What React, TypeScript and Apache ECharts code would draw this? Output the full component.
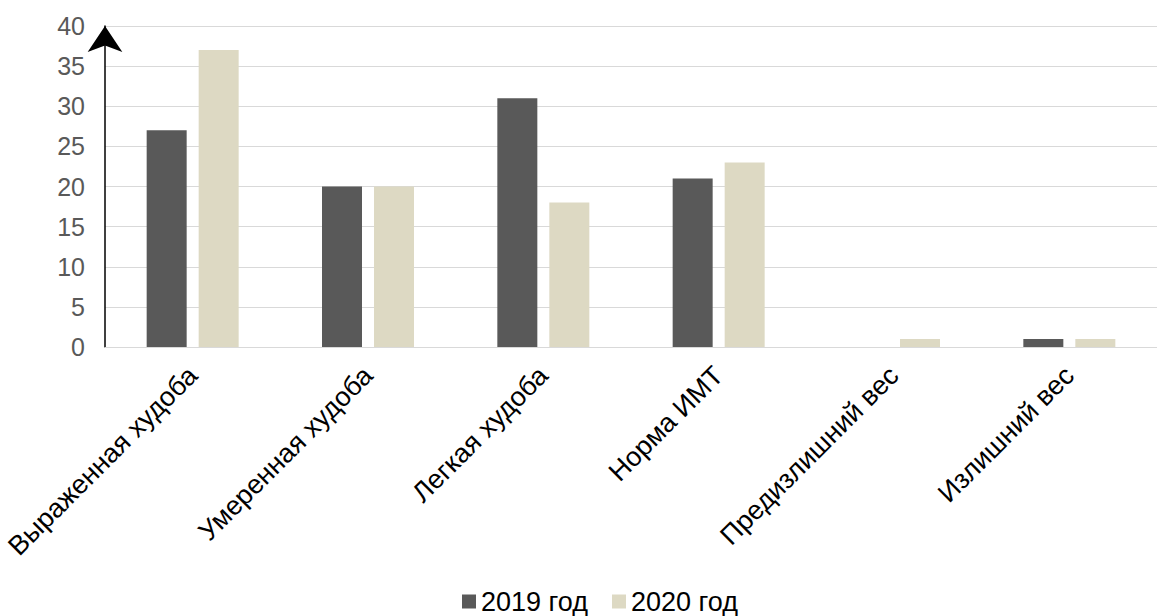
import React, { useEffect, useRef } from "react";
import * as echarts from "echarts";

const categories = [
  "Выраженная худоба",
  "Умеренная худоба",
  "Легкая худоба",
  "Норма ИМТ",
  "Предизлишний вес",
  "Излишний вес",
];
const values2019 = [27, 20, 31, 21, 0, 1];
const values2020 = [37, 20, 18, 23, 1, 1];
const seriesNames = ["2019 год", "2020 год"];

export default function App() {
  const ref = useRef<HTMLDivElement>(null);
  useEffect(() => {
    if (!ref.current) return;
    const chart = echarts.init(ref.current, undefined, { renderer: "svg" });
    const font = "'Liberation Sans', Arial, sans-serif";
    chart.setOption({
      animation: false,
      textStyle: { fontFamily: font },
      grid: { left: 105, right: 0, top: 26, bottom: 269, containLabel: false },
      legend: {
        left: 462,
        top: 588,
        padding: 0,
        itemWidth: 14,
        itemHeight: 14,
        itemGap: 24,
        icon: "rect",
        textStyle: { fontSize: 27, color: "#000", fontFamily: font },
        data: seriesNames,
      },
      xAxis: {
        type: "category",
        data: categories,
        axisLine: { show: true, lineStyle: { color: "#d9d9d9", width: 1 } },
        axisTick: { show: false },
        axisLabel: {
          rotate: 45,
          interval: 0,
          margin: 24,
          fontSize: 27,
          color: "#000",
          fontFamily: font,
        },
      },
      yAxis: {
        type: "value",
        min: 0,
        max: 40,
        interval: 5,
        axisLine: {
          show: true,
          symbol: ["none", "arrow"],
          symbolSize: [26, 26],
          lineStyle: { color: "#000", width: 1.5 },
        },
        axisTick: { show: false },
        axisLabel: { fontSize: 25, color: "#595959", margin: 20, fontFamily: font },
        splitLine: { lineStyle: { color: "#d9d9d9", width: 1 } },
      },
      series: [
        {
          name: seriesNames[0],
          type: "bar",
          data: values2019,
          barWidth: 40,
          barGap: "30%",
          itemStyle: { color: "#595959" },
        },
        {
          name: seriesNames[1],
          type: "bar",
          data: values2020,
          barWidth: 40,
          itemStyle: { color: "#ddd9c3" },
        },
      ],
    });
    return () => chart.dispose();
  }, []);
  return (
    <div
      ref={ref}
      style={{ position: "fixed", left: 0, top: 0, width: 1157, height: 616, background: "#fff" }}
    />
  );
}
